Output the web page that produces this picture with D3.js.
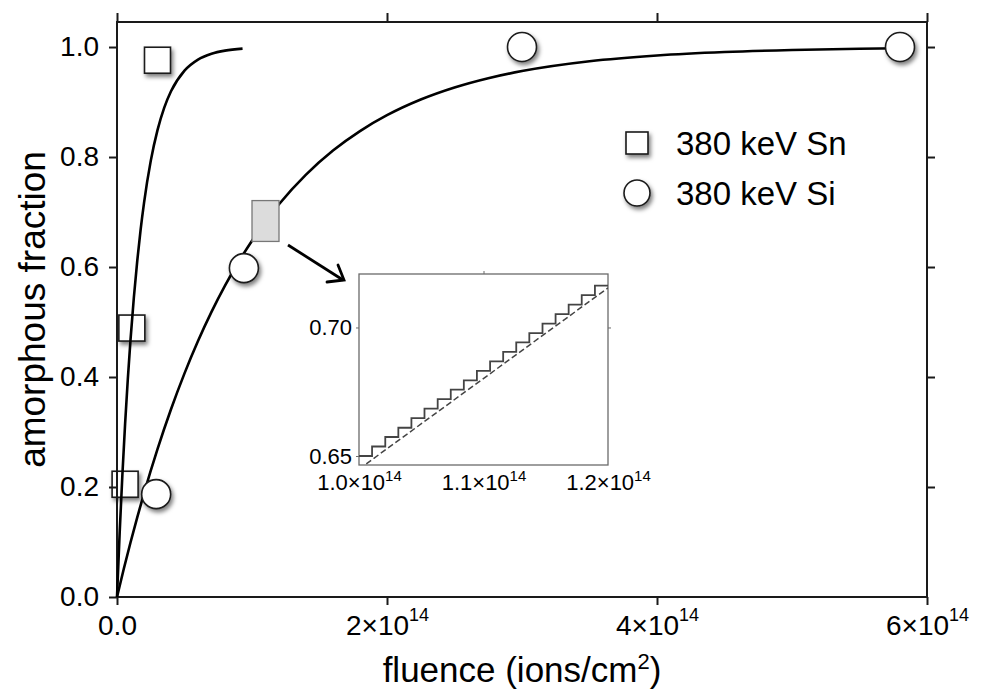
<!DOCTYPE html>
<html>
<head>
<meta charset="utf-8">
<script src="https://cdn.jsdelivr.net/npm/d3@7"></script>
<style>
  html, body { margin: 0; padding: 0; background: #fff; }
  svg { display: block; font-family: "Liberation Sans", Arial, Helvetica, sans-serif; }
</style>
</head>
<body>
<svg id="chart" width="985" height="691"></svg>
<script>
// ---- measured data (fluence in units of 1e14 ions/cm^2) ----
const snFluence = [0.06, 0.11, 0.30];
const snFraction = [0.205, 0.489, 0.976];
const siFluence = [0.29, 0.94, 3.0, 5.8];
const siFraction = [0.187, 0.598, 1.0, 1.0];

// fitted saturation curves
const snCurveX = [0, 0.02, 0.04, 0.06, 0.08, 0.1, 0.125, 0.15, 0.175, 0.2, 0.25, 0.3, 0.35, 0.4, 0.5, 0.6, 0.7, 0.8, 0.93];
const snCurveY = [0, 0.1184, 0.2228, 0.3148, 0.3959, 0.4674, 0.5450, 0.6113, 0.6680, 0.7163, 0.7930, 0.8489, 0.8898, 0.9195, 0.9571, 0.9772, 0.9878, 0.9935, 0.9971];
const siCurveX = [0, 0.05, 0.1, 0.15, 0.2, 0.3, 0.4, 0.5, 0.6, 0.7, 0.8, 0.9, 1.0, 1.2, 1.4, 1.6, 1.8, 2.0, 2.25, 2.5, 2.75, 3.0, 3.5, 4.0, 4.5, 5.0, 5.5, 5.8];
const siCurveY = [0, 0.0509, 0.0991, 0.1449, 0.1884, 0.2688, 0.3413, 0.4066, 0.4654, 0.5184, 0.5661, 0.6091, 0.6479, 0.7142, 0.7681, 0.8118, 0.8472, 0.8760, 0.9045, 0.9264, 0.9433, 0.9563, 0.9741, 0.9846, 0.9909, 0.9946, 0.9968, 0.9977];

// zoomed detail: stepwise simulation vs. continuous curve
const stepEdges = [1.0000, 1.0105, 1.0211, 1.0316, 1.0421, 1.0526, 1.0632, 1.0737, 1.0842, 1.0947, 1.1053, 1.1158, 1.1263, 1.1368, 1.1474, 1.1579, 1.1684, 1.1789, 1.1895, 1.2000];
const stepLevels = [0.6500, 0.6537, 0.6574, 0.6610, 0.6647, 0.6684, 0.6721, 0.6758, 0.6794, 0.6831, 0.6868, 0.6905, 0.6942, 0.6978, 0.7015, 0.7052, 0.7089, 0.7126, 0.7163];
const dashX = [1.0, 1.2];
const dashY = [0.6449, 0.7154];

// axis ticks and labels
const xTicks = [0, 2, 4, 6];
const xTickBase = ["0.0", "2\u00D710", "4\u00D710", "6\u00D710"];
const xTickSup = ["", "14", "14", "14"];
const yTicks = [0, 0.2, 0.4, 0.6, 0.8, 1.0];
const insetXTicks = [1.0, 1.1, 1.2];
const insetXBase = ["1.0\u00D710", "1.1\u00D710", "1.2\u00D710"];
const insetXSup = ["14", "14", "14"];
const insetYTicks = [0.65, 0.70];

const legendNames = ["380 keV Sn", "380 keV Si"];

// ---- drawing ----
const svg = d3.select("#chart");
const x = d3.scaleLinear().domain([0, 6]).range([117, 927]);
const y = d3.scaleLinear().domain([0, 1.0455]).range([597, 22]);

const defs = svg.append("defs");
const shadow = defs.append("filter").attr("id", "shadow")
  .attr("x", "-50%").attr("y", "-50%").attr("width", "200%").attr("height", "200%");
shadow.append("feDropShadow").attr("dx", 2).attr("dy", 3).attr("stdDeviation", 2)
  .attr("flood-color", "#000").attr("flood-opacity", 0.5);

const ink = "#1a1a1a";
const sq = 26, rad = 14.5;

// square markers sit beneath the axes and curves
svg.append("g").selectAll("rect").data(snFluence).join("rect")
  .attr("x", (d) => x(d) - sq / 2)
  .attr("y", (d, i) => y(snFraction[i]) - sq / 2)
  .attr("width", sq).attr("height", sq)
  .attr("fill", "#fff").attr("stroke", ink).attr("stroke-width", 1.6)
  .attr("filter", "url(#shadow)");

// frame
svg.append("rect").attr("x", x(0)).attr("y", y(1.0455))
  .attr("width", x(6) - x(0)).attr("height", y(0) - y(1.0455))
  .attr("fill", "none").attr("stroke", ink).attr("stroke-width", 2);

function styleAxis(g) {
  g.select(".domain").remove();
  g.selectAll(".tick line").attr("stroke", ink).attr("stroke-width", 2);
  g.selectAll(".tick text").attr("fill", "#000");
}

svg.append("g").attr("transform", `translate(${x(0)},0)`)
  .call(d3.axisLeft(y).tickValues(yTicks).tickSize(8).tickPadding(10).tickFormat(d3.format(".1f")))
  .call(styleAxis)
  .selectAll(".tick text").attr("font-size", 28);

svg.append("g").attr("transform", `translate(${x(6)},0)`)
  .call(d3.axisRight(y).tickValues(yTicks.slice(1)).tickSize(8).tickFormat(""))
  .call(styleAxis);

svg.append("g").attr("transform", `translate(0,${y(1.0455)})`)
  .call(d3.axisTop(x).tickValues(xTicks).tickSize(9).tickFormat(""))
  .call(styleAxis);

const bottom = svg.append("g").attr("transform", `translate(0,${y(0)})`)
  .call(d3.axisBottom(x).tickValues(xTicks).tickSize(8).tickPadding(10).tickFormat(""))
  .call(styleAxis);
bottom.selectAll(".tick text").each(function (d, i) {
  const t = d3.select(this).attr("font-size", 28).attr("dy", "0.71em");
  t.append("tspan").text(xTickBase[i]);
  if (xTickSup[i]) t.append("tspan").attr("font-size", 18).attr("dy", "-0.75em").text(xTickSup[i]);
});

// axis titles
const xTitle = svg.append("text").attr("x", (x(0) + x(6)) / 2).attr("y", 682)
  .attr("text-anchor", "middle").attr("font-size", 35).attr("fill", "#000");
xTitle.append("tspan").text("fluence (ions/cm");
xTitle.append("tspan").attr("font-size", 22).attr("dy", -13).text("2");
xTitle.append("tspan").attr("dy", 13).text(")");

svg.append("text").attr("transform", `translate(45,${(y(0) + y(1.0455)) / 2}) rotate(-90)`)
  .attr("text-anchor", "middle").attr("font-size", 37).attr("fill", "#000")
  .text("amorphous fraction");

// fitted curves
const line = d3.line().x((d) => x(d[0])).y((d) => y(d[1])).curve(d3.curveMonotoneX);
svg.append("path").datum(snCurveX.map((v, i) => [v, snCurveY[i]]))
  .attr("d", line).attr("fill", "none").attr("stroke", "#000").attr("stroke-width", 2.6);
svg.append("path").datum(siCurveX.map((v, i) => [v, siCurveY[i]]))
  .attr("d", line).attr("fill", "none").attr("stroke", "#000").attr("stroke-width", 2.6);

// highlighted window that is magnified in the inset
svg.append("rect")
  .attr("x", x(insetXTicks[0])).attr("y", y(0.7208))
  .attr("width", x(insetXTicks[2]) - x(insetXTicks[0]))
  .attr("height", y(0.6465) - y(0.7208))
  .attr("fill", "#dcdcdc").attr("stroke", "#777").attr("stroke-width", 1.3);

// circle markers
svg.append("g").selectAll("circle").data(siFluence).join("circle")
  .attr("cx", (d) => x(d)).attr("cy", (d, i) => y(siFraction[i])).attr("r", rad)
  .attr("fill", "#fff").attr("stroke", ink).attr("stroke-width", 1.6)
  .attr("filter", "url(#shadow)");

// arrow pointing to the inset
svg.append("path").attr("d", "M288,245 L343,280")
  .attr("stroke", "#000").attr("stroke-width", 2.8).attr("fill", "none");
svg.append("path").attr("d", "M327,282 L344,280 L338,265")
  .attr("stroke", "#000").attr("stroke-width", 2.8).attr("fill", "none")
  .attr("stroke-linejoin", "miter").attr("stroke-linecap", "round");

// legend
const legend = svg.append("g");
legend.append("rect").attr("x", 637 - 11).attr("y", 143 - 11).attr("width", 22).attr("height", 22)
  .attr("fill", "#fff").attr("stroke", ink).attr("stroke-width", 1.6).attr("filter", "url(#shadow)");
legend.append("circle").attr("cx", 637).attr("cy", 193).attr("r", 13)
  .attr("fill", "#fff").attr("stroke", ink).attr("stroke-width", 1.6).attr("filter", "url(#shadow)");
legend.selectAll("text").data(legendNames).join("text")
  .attr("x", 676).attr("y", (d, i) => 155 + i * 50)
  .attr("font-size", 33).attr("fill", "#000").text((d) => d);

// ---- inset ----
const ix = d3.scaleLinear().domain([1.0, 1.2]).range([359, 608]);
const iy = d3.scaleLinear().domain([0.6465, 0.7208]).range([465, 274]);
const inset = svg.append("g");
defs.append("clipPath").attr("id", "insetClip").append("rect")
  .attr("x", ix(1.0)).attr("y", iy(0.7208)).attr("width", ix(1.2) - ix(1.0)).attr("height", iy(0.6465) - iy(0.7208));

inset.append("rect").attr("x", ix(1.0)).attr("y", iy(0.7208))
  .attr("width", ix(1.2) - ix(1.0)).attr("height", iy(0.6465) - iy(0.7208))
  .attr("fill", "#fff").attr("stroke", "#6a6a6a").attr("stroke-width", 1.3);

function styleInset(g, size) {
  g.select(".domain").remove();
  g.selectAll(".tick line").attr("stroke", "#6a6a6a").attr("stroke-width", 1);
  g.selectAll(".tick text").attr("fill", "#000").attr("font-size", size);
}
inset.append("g").attr("transform", `translate(${ix(1.0)},0)`)
  .call(d3.axisLeft(iy).tickValues(insetYTicks).tickSize(3).tickPadding(4).tickFormat(d3.format(".2f")))
  .call(styleInset, 22);
inset.append("g").attr("transform", `translate(${ix(1.2)},0)`)
  .call(d3.axisRight(iy).tickValues([0.70]).tickSize(3).tickFormat(""))
  .call(styleInset, 22);
inset.append("g").attr("transform", `translate(0,${iy(0.7208)})`)
  .call(d3.axisTop(ix).tickValues([1.1]).tickSize(3).tickFormat(""))
  .call(styleInset, 22);
const ib = inset.append("g").attr("transform", `translate(0,${iy(0.6465)})`)
  .call(d3.axisBottom(ix).tickValues(insetXTicks).tickSize(0).tickPadding(9).tickFormat(""))
  .call(styleInset, 22);
ib.selectAll(".tick text").each(function (d, i) {
  const t = d3.select(this).attr("dy", "0.71em");
  t.append("tspan").text(insetXBase[i]);
  t.append("tspan").attr("font-size", 15).attr("dy", "-0.6em").text(insetXSup[i]);
});

const plotArea = inset.append("g").attr("clip-path", "url(#insetClip)");
plotArea.append("path")
  .datum(dashX.map((v, i) => [v, dashY[i]]))
  .attr("d", d3.line().x((d) => ix(d[0])).y((d) => iy(d[1])))
  .attr("fill", "none").attr("stroke", "#444").attr("stroke-width", 1.5).attr("stroke-dasharray", "6,3");
const stepPts = stepLevels.map((v, i) => [stepEdges[i], v]);
stepPts.push([stepEdges[stepEdges.length - 1], stepLevels[stepLevels.length - 1]]);
plotArea.append("path").datum(stepPts)
  .attr("d", d3.line().x((d) => ix(d[0])).y((d) => iy(d[1])).curve(d3.curveStepAfter))
  .attr("fill", "none").attr("stroke", "#444").attr("stroke-width", 1.8);
</script>
</body>
</html>
